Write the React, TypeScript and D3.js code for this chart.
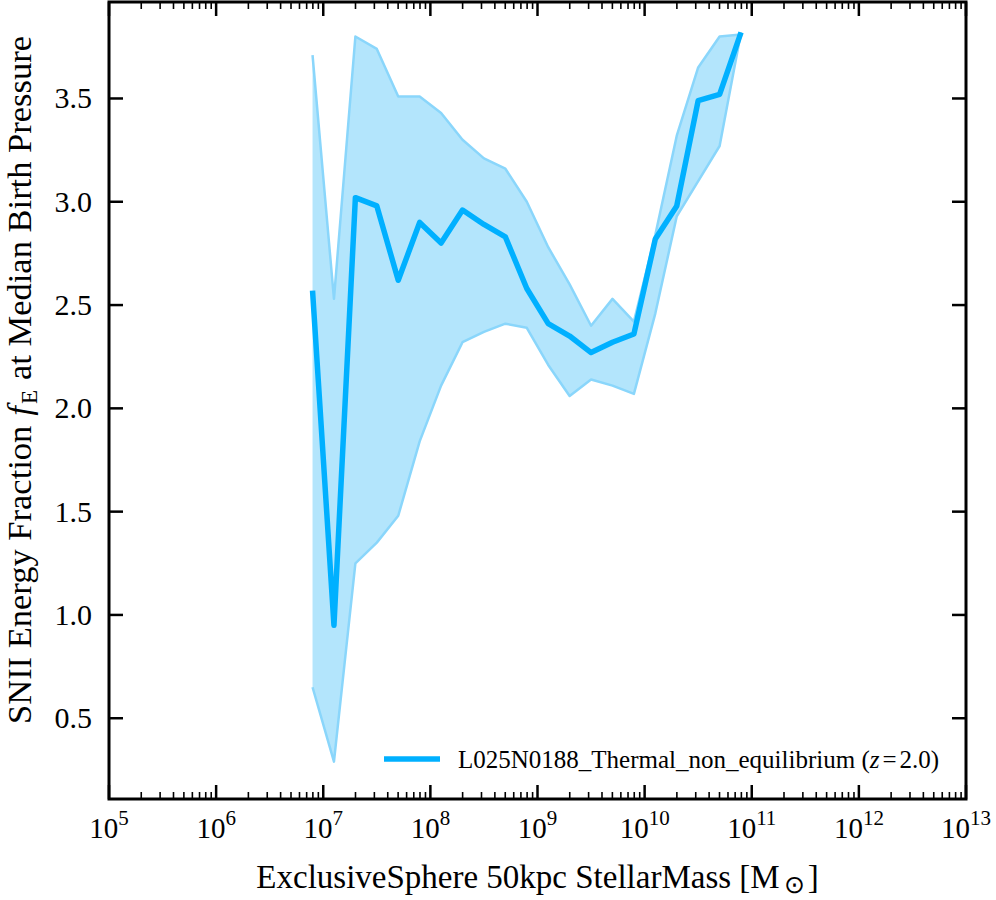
import * as d3 from "d3";

const logMass = [6.9, 7.1, 7.3, 7.5, 7.7, 7.9, 8.1, 8.3, 8.5, 8.7, 8.9, 9.1, 9.3, 9.5, 9.7, 9.9, 10.1, 10.3, 10.5, 10.7, 10.9];
const median = [2.57, 0.95, 3.02, 2.98, 2.62, 2.9, 2.8, 2.96, 2.89, 2.83, 2.58, 2.41, 2.35, 2.27, 2.32, 2.36, 2.82, 2.98, 3.49, 3.52, 3.82];
const upper = [3.71, 2.53, 3.8, 3.74, 3.51, 3.51, 3.43, 3.3, 3.21, 3.16, 3.0, 2.78, 2.6, 2.4, 2.53, 2.42, 2.84, 3.32, 3.65, 3.8, 3.81];
const lower = [0.65, 0.29, 1.25, 1.35, 1.48, 1.84, 2.11, 2.32, 2.37, 2.41, 2.39, 2.21, 2.06, 2.14, 2.11, 2.07, 2.46, 2.93, 3.1, 3.27, 3.82];
const xDecades = [5, 6, 7, 8, 9, 10, 11, 12, 13];
const yTicks = [0.5, 1.0, 1.5, 2.0, 2.5, 3.0, 3.5];
const legendLabel = "L025N0188_Thermal_non_equilibrium";

const W = 996;
const H = 900;
const m = { left: 109, right: 966, top: 2, bottom: 799 };
const font = '"Liberation Serif", "Times New Roman", serif';
const lineColor = "#00b0ff";
const fillColor = "#b3e5fc";
const edgeColor = "#8ad6fb";

export default function App() {
  const x = d3.scaleLog().domain([1e5, 1e13]).range([m.left, m.right]);
  const y = d3.scaleLinear().domain([0.109, 3.967]).range([m.bottom, m.top]);

  const pts = logMass.map((lm, i) => ({ m: Math.pow(10, lm), med: median[i], lo: lower[i], hi: upper[i] }));
  type P = (typeof pts)[number];

  const area = d3.area<P>().x((d) => x(d.m)).y0((d) => y(d.lo)).y1((d) => y(d.hi));
  const medLine = d3.line<P>().x((d) => x(d.m)).y((d) => y(d.med));
  const hiLine = d3.line<P>().x((d) => x(d.m)).y((d) => y(d.hi));
  const loLine = d3.line<P>().x((d) => x(d.m)).y((d) => y(d.lo));

  const minor: number[] = [];
  xDecades.slice(0, -1).forEach((e) => {
    for (let k = 2; k <= 9; k++) minor.push(k * Math.pow(10, e));
  });

  return (
    <svg width={W} height={H} style={{ position: "absolute", left: 0, top: 0, fontFamily: font }}>
      <rect width={W} height={H} fill="white" />
      <path d={area(pts) || ""} fill={fillColor} stroke="none" />
      <path d={hiLine(pts) || ""} fill="none" stroke={edgeColor} strokeWidth={2.5} strokeLinejoin="round" />
      <path d={loLine(pts) || ""} fill="none" stroke={edgeColor} strokeWidth={2.5} strokeLinejoin="round" />
      <path d={medLine(pts) || ""} fill="none" stroke={lineColor} strokeWidth={5.5} strokeLinejoin="round" />

      {/* x ticks, bottom and top */}
      {xDecades.map((e) => {
        const px = x(Math.pow(10, e));
        return (
          <g key={"xM" + e}>
            <line x1={px} x2={px} y1={m.bottom} y2={m.bottom - 14} stroke="black" strokeWidth={2.5} />
            <line x1={px} x2={px} y1={m.top} y2={m.top + 14} stroke="black" strokeWidth={2.5} />
            <text x={px} y={838} fontSize={29} textAnchor="middle">
              <tspan>10</tspan>
              <tspan dy={-13} fontSize={21}>{e}</tspan>
            </text>
          </g>
        );
      })}
      {minor.map((v, i) => {
        const px = x(v);
        return (
          <g key={"xm" + i}>
            <line x1={px} x2={px} y1={m.bottom} y2={m.bottom - 7} stroke="black" strokeWidth={1.6} />
            <line x1={px} x2={px} y1={m.top} y2={m.top + 7} stroke="black" strokeWidth={1.6} />
          </g>
        );
      })}

      {/* y ticks, left and right */}
      {yTicks.map((v) => {
        const py = y(v);
        return (
          <g key={"y" + v}>
            <line x1={m.left} x2={m.left + 14} y1={py} y2={py} stroke="black" strokeWidth={2.5} />
            <line x1={m.right} x2={m.right - 14} y1={py} y2={py} stroke="black" strokeWidth={2.5} />
            <text x={92} y={py + 10} fontSize={30} textAnchor="end">
              {v.toFixed(1)}
            </text>
          </g>
        );
      })}

      <rect x={m.left} y={m.top} width={m.right - m.left} height={m.bottom - m.top} fill="none" stroke="black" strokeWidth={3} />

      {/* legend */}
      <line x1={384} x2={440} y1={759} y2={759} stroke={lineColor} strokeWidth={5.5} />
      <text x={458} y={768} fontSize={25}>
        {legendLabel} (<tspan fontStyle="italic">z</tspan>
        <tspan dx={3}>=</tspan>
        <tspan dx={3}>2.0)</tspan>
      </text>

      {/* axis labels */}
      <text x={(m.left + m.right) / 2} y={888} fontSize={33} textAnchor="middle">
        ExclusiveSphere 50kpc StellarMass [M
        <tspan dx={4} dy={5} fontSize={25}>{"\u2299"}</tspan>
        <tspan dx={3} dy={-5}>]</tspan>
      </text>
      <text transform="translate(31,380) rotate(-90)" fontSize={34.5} textAnchor="middle">
        SNII Energy Fraction
        <tspan dx={10} fontStyle="italic">f</tspan>
        <tspan fontSize={23} dx={2} dy={6}>E</tspan>
        <tspan dx={10} dy={-6}>at Median Birth Pressure</tspan>
      </text>
    </svg>
  );
}
